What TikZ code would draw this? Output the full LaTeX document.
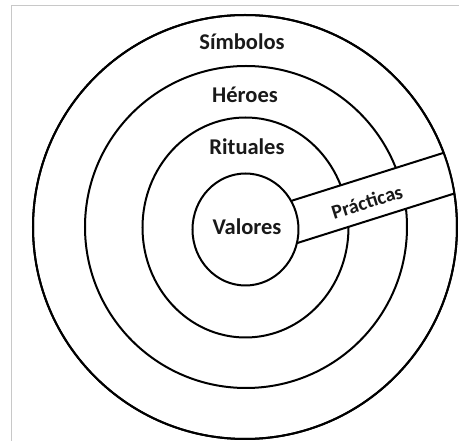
\documentclass[tikz,border=0pt]{standalone}
\usepackage{fontspec}
\setmainfont{Carlito}
\usepackage{tikz}
\definecolor{framegray}{RGB}{200, 200, 200}
\usetikzlibrary{positioning, calc}

\begin{document}
\begin{tikzpicture}[x=1pt, y=1pt,
    ring/.style={draw=black, line width=2pt},
    lbl/.style={font=\bfseries\fontsize{22.5}{26}\selectfont, text=black!90, inner sep=0pt}
]
    \useasboundingbox (-245,-214) rectangle (214,227);

    % Frame
    \draw[framegray, line width=1.8pt] (-233.5,-214) -- (-233.5,221.5) -- (214,221.5);

    % Circles
    \draw[ring] (0,0) circle[radius=212];
    \draw[ring] (1,0) circle[radius=161];
    \draw[ring] (0.5,-0.5) ellipse[x radius=103, y radius=110];

    % Band
    \begin{scope}
        \clip (0,0) circle[radius=212];
        \draw[ring, fill=white, rotate=17.5] (0,-31) rectangle (260,11);
    \end{scope}
    \draw[ring] (0,0) circle[radius=212];
    \draw[ring, fill=white] (0.5,-2.5) ellipse[x radius=53, y radius=56];

    % Labels
    \node[lbl] (simbolos) at (-3,185) {Símbolos};
    \node[lbl] (heroes) at (0,132) {Héroes};
    \node[lbl] (rituales) at (2,80) {Rituales};
    \node[lbl] (valores) at (2,0) {Valores};
    \node[lbl, font=\bfseries\fontsize{20}{24}\selectfont, rotate=17.5] (practicas) at (122,25) {Prácticas};
\end{tikzpicture}
\end{document}
